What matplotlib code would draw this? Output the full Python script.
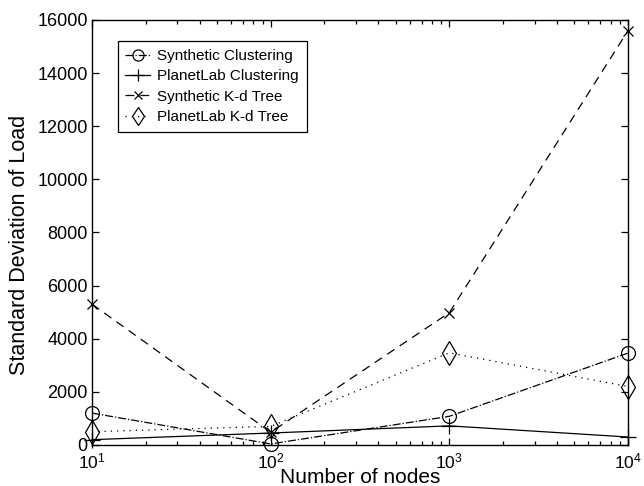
import matplotlib
matplotlib.use("Agg")
import matplotlib.pyplot as plt
from matplotlib.ticker import LogLocator, NullFormatter

plt.rcParams['font.family'] = ['Liberation Sans', 'DejaVu Sans']
plt.rcParams['mathtext.fontset'] = 'custom'
plt.rcParams['mathtext.rm'] = 'Liberation Sans'
plt.rcParams['mathtext.it'] = 'Liberation Sans'

nodes = [10, 100, 1000, 10000]
synthetic_clustering = [1200, 40, 1080, 3460]
planetlab_clustering = [200, 450, 720, 300]
synthetic_kd = [5300, 480, 4980, 15600]
planetlab_kd = [500, 700, 3470, 2200]
labels = ["Synthetic Clustering", "PlanetLab Clustering",
          "Synthetic K-d Tree", "PlanetLab K-d Tree"]
yticks = [0, 2000, 4000, 6000, 8000, 10000, 12000, 14000, 16000]

fig = plt.figure(figsize=(6.44, 4.86), dpi=100)
ax = fig.add_axes([0.1429, 0.0844, 0.8323, 0.8745])

lw = 0.9
ax.plot(nodes, synthetic_clustering, color='black', lw=lw, linestyle='-.',
        marker='o', markersize=10, markerfacecolor='none', markeredgewidth=0.9,
        clip_on=False, label=labels[0])
ax.plot(nodes, planetlab_clustering, color='black', lw=lw, linestyle='-',
        marker='+', markersize=11, markeredgewidth=0.9,
        clip_on=False, label=labels[1])
ax.plot(nodes, synthetic_kd, color='black', lw=lw, linestyle=(0, (7, 5)),
        marker='x', markersize=7, markeredgewidth=0.9,
        clip_on=False, label=labels[2])
ax.plot(nodes, planetlab_kd, color='black', lw=lw, linestyle=(0, (1, 4)),
        marker='d', markersize=12, markerfacecolor='none', markeredgewidth=0.9,
        clip_on=False, label=labels[3])

ax.set_xscale('log')
ax.set_xlim(10, 10000)
ax.set_ylim(0, 16000)
ax.set_yticks(yticks)
ax.xaxis.set_major_locator(LogLocator(base=10, numticks=10))
ax.xaxis.set_minor_locator(LogLocator(base=10, subs=range(2, 10), numticks=20))
ax.xaxis.set_minor_formatter(NullFormatter())

ax.tick_params(which='both', direction='in', top=True, right=True, width=0.9)
ax.tick_params(axis='y', labelsize=13, pad=3)
ax.tick_params(axis='x', labelsize=12.5, pad=5)
ax.tick_params(which='major', length=5)
ax.tick_params(which='minor', length=3)
for s in ax.spines.values():
    s.set_linewidth(1.0)

ax.set_xlabel("Number of nodes", fontsize=15, labelpad=-3)
ax.set_ylabel("Standard Deviation of Load", fontsize=15.5, labelpad=3)
ax.yaxis.set_label_coords(-0.115, 0.47)

leg = ax.legend(loc='upper left', bbox_to_anchor=(0.048, 0.95),
                fancybox=False, edgecolor='black', framealpha=1,
                fontsize=11, handlelength=1.6, borderpad=0.5,
                labelspacing=0.42, handletextpad=0.5, borderaxespad=0,
                markerscale=0.8)
leg.get_frame().set_linewidth(0.9)

fig.savefig("out.png", dpi=100)
